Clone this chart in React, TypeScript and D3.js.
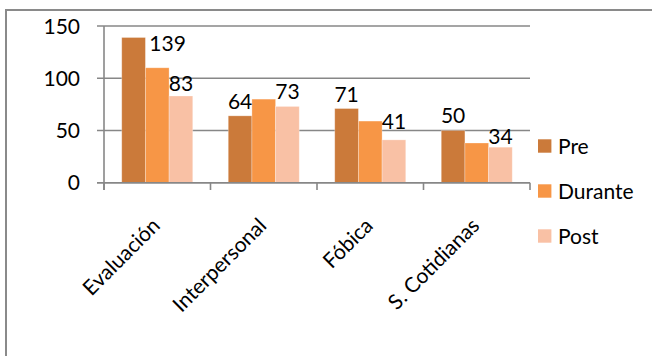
import React from "react";
import * as d3 from "d3";

const categories = ["Evaluación", "Interpersonal", "Fóbica", "S. Cotidianas"];
const seriesNames = ["Pre", "Durante", "Post"];
const preValues = [139, 64, 71, 50];
const duranteValues = [110, 80, 59, 38];
const postValues = [83, 73, 41, 34];
const yTicks = [0, 50, 100, 150];
const showLabel = [true, false, true];

const colors = ["#CB7A3A", "#F79646", "#F9C1A5"];
const FONT = "Lato, 'Open Sans', sans-serif";
const FS = 21;
// manual label nudges (px) per series per category, mirroring the reference
const labelNudge: number[][][] = [
  [[34, 21], [0, 0], [0, 0], [0, 0]],
  [[0, 0], [0, 0], [0, 0], [0, 0]],
  [[0, 2], [0, 0], [0, -4], [0, 4]],
];

export default function App() {
  const W = 652, H = 356;
  const values = [preValues, duranteValues, postValues];
  const x0 = d3.scaleBand<string>().domain(categories).range([104, 530]).padding(0);
  const x1 = d3.scaleBand<string>().domain(seriesNames).range([0, x0.bandwidth()]).paddingInner(0).paddingOuter(0.75);
  const y = d3.scaleLinear().domain([0, 150]).range([182.7, 26]);
  const axisCol = "#878787";
  return (
    <svg width={W} height={H} style={{ position: "absolute", left: 0, top: 0, background: "#fff" }}>
      <rect x={6} y={10} width={W + 20} height={H + 20} fill="#fff" stroke="#8a8a8a" strokeWidth={2} />
      {yTicks.map((t) => (
        <g key={t}>
          <line x1={97} x2={530} y1={y(t)} y2={y(t)} stroke={axisCol} strokeWidth={1.6} />
          <text x={80} y={y(t)} dy="0.36em" textAnchor="end" fontFamily={FONT} fontSize={FS} fill="#000">{t}</text>
        </g>
      ))}
      {seriesNames.map((s, si) =>
        categories.map((c, ci) => (
          <rect key={s + c} x={(x0(c) as number) + (x1(s) as number)} y={y(values[si][ci])}
            width={x1.bandwidth()} height={y(0) - y(values[si][ci])}
            fill={colors[si]} stroke="#fff" strokeOpacity={0.35} strokeWidth={0.8} />
        ))
      )}
      <line x1={104} x2={104} y1={y(150)} y2={190} stroke={axisCol} strokeWidth={1.6} />
      <line x1={97} x2={530} y1={y(0)} y2={y(0)} stroke={axisCol} strokeWidth={1.6} />
      {[...categories.map((c) => x0(c) as number), 530].map((v, i) => (
        <line key={i} x1={v} x2={v} y1={y(0)} y2={190} stroke={axisCol} strokeWidth={1.6} />
      ))}
      {seriesNames.map((s, si) =>
        showLabel[si]
          ? categories.map((c, ci) => (
              <text key={"l" + s + c}
                x={(x0(c) as number) + (x1(s) as number) + x1.bandwidth() / 2 + labelNudge[si][ci][0]}
                y={y(values[si][ci]) - 7 + labelNudge[si][ci][1]}
                textAnchor="middle" fontFamily={FONT} fontSize={FS} fill="#000">{values[si][ci]}</text>
            ))
          : null
      )}
      {categories.map((c) => {
        const cx = (x0(c) as number) + x0.bandwidth() / 2;
        return (
          <text key={"c" + c} transform={`translate(${cx + 4},${227}) rotate(-45)`} textAnchor="end"
            fontFamily={FONT} fontSize={FS} fill="#000">{c}</text>
        );
      })}
      {seriesNames.map((s, i) => (
        <g key={"lg" + s} transform={`translate(538,${146 + i * 45})`}>
          <rect x={0} y={-6.7} width={13.4} height={13.4} fill={colors[i]} />
          <text x={20} y={0} dy="0.36em" fontFamily={FONT} fontSize={FS} fill="#000">{s}</text>
        </g>
      ))}
    </svg>
  );
}
